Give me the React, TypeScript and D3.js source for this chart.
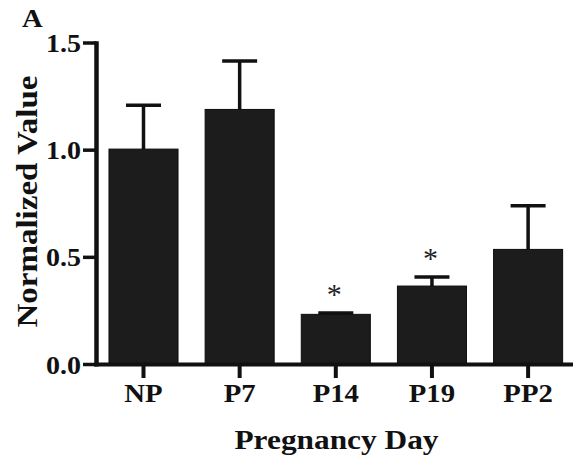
import React from "react";
import * as d3 from "d3";

const categories = ["NP", "P7", "P14", "P19", "PP2"];
const means = [1.005, 1.19, 0.234, 0.366, 0.537];
const errors = [0.205, 0.226, 0.006, 0.042, 0.204];
const significant = [false, false, true, true, false];
const yTicks = [0, 0.5, 1.0, 1.5];

const W = 573;
const H = 465;
const FONT = '"Times New Roman", Times, "Liberation Serif", "DejaVu Serif", serif';

export default function App() {
  const x = d3
    .scaleBand<string>()
    .domain(categories)
    .range([96, 575.6])
    .paddingInner(0.282)
    .paddingOuter(0.135);
  const y = d3.scaleLinear().domain([0, 1.5]).range([364.5, 43]);
  const axisX = 96.5;
  const baseY = y(0);
  const capW = 35;
  const ts = { fontFamily: FONT } as React.CSSProperties;

  return (
    <svg
      width={W}
      height={H}
      style={{ position: "absolute", left: 0, top: 0, background: "#fff", fontFamily: FONT }}
    >
      <rect x={0} y={0} width={W} height={H} fill="#fff" />
      {categories.map((c, i) => {
        const x0 = x(c)!;
        const cx = x0 + x.bandwidth() / 2;
        const top = y(means[i]);
        const eTop = y(means[i] + errors[i]);
        return (
          <g key={c}>
            <line x1={cx} x2={cx} y1={top} y2={eTop} stroke="#111" strokeWidth={3.5} />
            <line x1={cx - capW / 2} x2={cx + capW / 2} y1={eTop} y2={eTop} stroke="#111" strokeWidth={3.5} />
            <rect
              x={x0}
              y={top}
              width={x.bandwidth()}
              height={baseY - top}
              fill="#1c1c1c"
              stroke="#0d0d0d"
              strokeWidth={1}
            />
            {significant[i] && (
              <text style={ts} x={cx - 1.5} y={eTop - 9} textAnchor="middle" fontSize={30} fill="#222">
                *
              </text>
            )}
          </g>
        );
      })}
      <line x1={axisX} x2={axisX} y1={y(1.5) - 1.75} y2={baseY + 2} stroke="#111" strokeWidth={4.5} />
      {yTicks.map((t) => (
        <g key={t}>
          <line x1={83} x2={axisX} y1={y(t)} y2={y(t)} stroke="#111" strokeWidth={3.5} />
          <text
            style={ts}
            transform={`translate(81,${y(t) + 9}) scale(1.12,1)`}
            textAnchor="end"
            fontSize={25}
            fontWeight="bold"
            fill="#111"
          >
            {d3.format(".1f")(t)}
          </text>
        </g>
      ))}
      <line x1={axisX - 2} x2={W} y1={baseY} y2={baseY} stroke="#111" strokeWidth={4} />
      {categories.map((c) => {
        const cx = x(c)! + x.bandwidth() / 2;
        return (
          <g key={c}>
            <line x1={cx} x2={cx} y1={baseY} y2={378} stroke="#111" strokeWidth={4} />
            <text
              style={ts}
              transform={`translate(${cx},402) scale(1.15,1)`}
              textAnchor="middle"
              fontSize={25}
              fontWeight="bold"
              fill="#111"
            >
              {c}
            </text>
          </g>
        );
      })}
      <text
        style={ts}
        transform="translate(336.5,449) scale(1.12,1)"
        textAnchor="middle"
        fontSize={28}
        fontWeight="bold"
        fill="#111"
      >
        Pregnancy Day
      </text>
      <text
        style={ts}
        transform="translate(37,201.5) rotate(-90) scale(1.1,1)"
        textAnchor="middle"
        fontSize={30}
        fontWeight="bold"
        fill="#111"
      >
        Normalized Value
      </text>
      <text
        style={ts}
        transform="translate(22,27) scale(1.1,1)"
        fontSize={26}
        fontWeight="bold"
        fill="#111"
      >
        A
      </text>
    </svg>
  );
}
